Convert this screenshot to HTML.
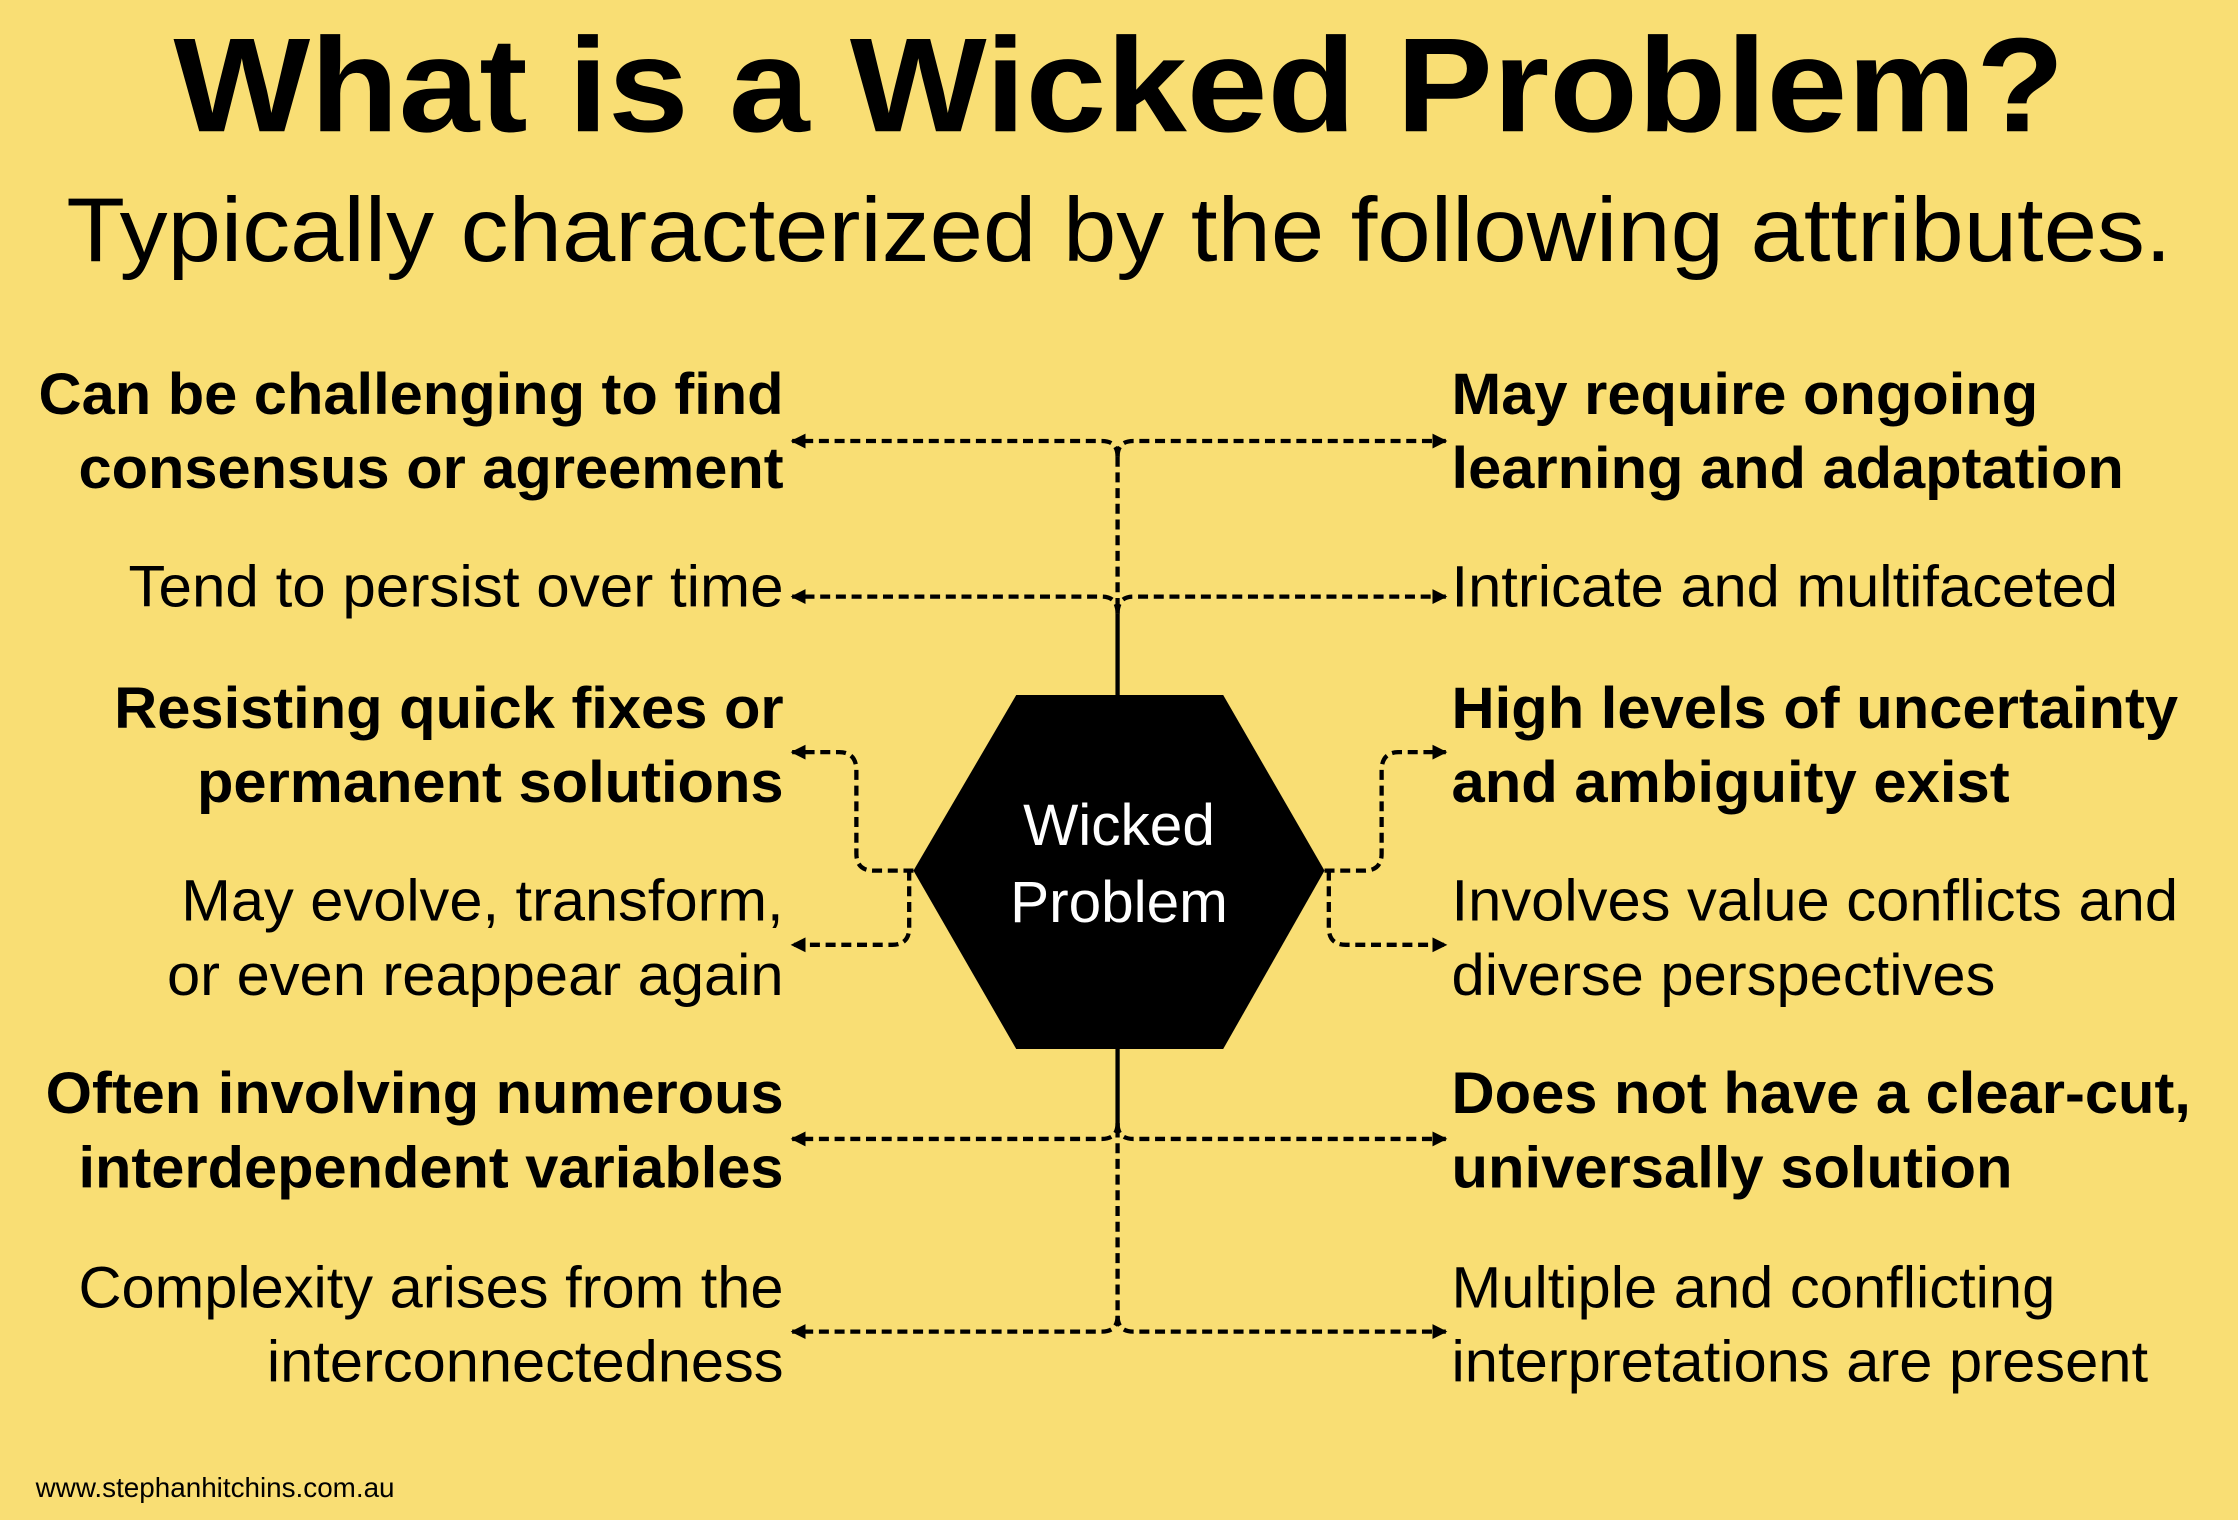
<!DOCTYPE html>
<html><head><meta charset="utf-8"><style>
html,body{margin:0;padding:0;background:#f9de74;}
svg{display:block}
text{font-family:"Liberation Sans",Arial,sans-serif;fill:#000}
.b{font-weight:bold;font-size:41px}
.n{font-size:41px}
.l{text-anchor:end}
</style></head><body>
<svg width="2238" height="1520" viewBox="0 0 1568 1065" preserveAspectRatio="none" xmlns="http://www.w3.org/2000/svg">
<rect width="1568" height="1065" fill="#f9de74"/>
<defs><marker id="a" viewBox="0 0 10 10" refX="9" refY="5" markerWidth="3.5" markerHeight="3.5" orient="auto-start-reverse"><path d="M0,0 L10,5 L0,10z" fill="#000"/></marker></defs>
<text x="784" y="92" text-anchor="middle" font-size="94" font-weight="bold" textLength="1325" lengthAdjust="spacingAndGlyphs">What is a Wicked Problem?</text>
<text x="784" y="183" text-anchor="middle" font-size="64" textLength="1475" lengthAdjust="spacingAndGlyphs">Typically characterized by the following attributes.</text>

<g class="l">
<text x="549" y="290" class="b" textLength="522" lengthAdjust="spacingAndGlyphs">Can be challenging to find</text>
<text x="549" y="342" class="b" textLength="494" lengthAdjust="spacingAndGlyphs">consensus or agreement</text>
<text x="549" y="425" class="n" textLength="459" lengthAdjust="spacingAndGlyphs">Tend to persist over time</text>
<text x="549" y="510" class="b" textLength="469" lengthAdjust="spacingAndGlyphs">Resisting quick fixes or</text>
<text x="549" y="562" class="b" textLength="411" lengthAdjust="spacingAndGlyphs">permanent solutions</text>
<text x="549" y="645" class="n" textLength="422" lengthAdjust="spacingAndGlyphs">May evolve, transform,</text>
<text x="549" y="697" class="n" textLength="432" lengthAdjust="spacingAndGlyphs">or even reappear again</text>
<text x="549" y="780" class="b" textLength="517" lengthAdjust="spacingAndGlyphs">Often involving numerous</text>
<text x="549" y="832" class="b" textLength="494" lengthAdjust="spacingAndGlyphs">interdependent variables</text>
<text x="549" y="916" class="n" textLength="494" lengthAdjust="spacingAndGlyphs">Complexity arises from the</text>
<text x="549" y="968" class="n" textLength="362" lengthAdjust="spacingAndGlyphs">interconnectedness</text>
</g>
<g>
<text x="1017" y="290" class="b" textLength="411" lengthAdjust="spacingAndGlyphs">May require ongoing</text>
<text x="1017" y="342" class="b" textLength="471" lengthAdjust="spacingAndGlyphs">learning and adaptation</text>
<text x="1017" y="425" class="n" textLength="467" lengthAdjust="spacingAndGlyphs">Intricate and multifaceted</text>
<text x="1017" y="510" class="b" textLength="509" lengthAdjust="spacingAndGlyphs">High levels of uncertainty</text>
<text x="1017" y="562" class="b" textLength="391" lengthAdjust="spacingAndGlyphs">and ambiguity exist</text>
<text x="1017" y="645" class="n" textLength="509" lengthAdjust="spacingAndGlyphs">Involves value conflicts and</text>
<text x="1017" y="697" class="n" textLength="381" lengthAdjust="spacingAndGlyphs">diverse perspectives</text>
<text x="1017" y="780" class="b" textLength="518" lengthAdjust="spacingAndGlyphs">Does not have a clear-cut,</text>
<text x="1017" y="832" class="b" textLength="393" lengthAdjust="spacingAndGlyphs">universally solution</text>
<text x="1017" y="916" class="n" textLength="423" lengthAdjust="spacingAndGlyphs">Multiple and conflicting</text>
<text x="1017" y="968" class="n" textLength="488" lengthAdjust="spacingAndGlyphs">interpretations are present</text>
</g>

<polygon points="640,610 712,487 857,487 928,610 857,735 712,735" fill="#000"/>
<text x="784" y="592" text-anchor="middle" font-size="41" style="fill:#fff">Wicked</text>
<text x="784" y="646" text-anchor="middle" font-size="41" style="fill:#fff">Problem</text>

<g fill="none" stroke="#000" stroke-width="3">
<line x1="783" y1="430" x2="783" y2="487"/>
<line x1="783" y1="735" x2="783" y2="790"/>
</g>
<g fill="none" stroke="#000" stroke-width="3" stroke-dasharray="7,4">
<line x1="783" y1="320" x2="783" y2="430"/>
<line x1="783" y1="790" x2="783" y2="925"/>
<path d="M783,320 Q783,309 772,309 L555,309" marker-end="url(#a)"/>
<path d="M783,320 Q783,309 794,309 L1013,309" marker-end="url(#a)"/>
<path d="M783,430 Q783,418 772,418 L555,418" marker-end="url(#a)"/>
<path d="M783,430 Q783,418 794,418 L1013,418" marker-end="url(#a)"/>
<path d="M783,787 Q783,798 772,798 L555,798" marker-end="url(#a)"/>
<path d="M783,787 Q783,798 794,798 L1013,798" marker-end="url(#a)"/>
<path d="M783,922 Q783,933 772,933 L555,933" marker-end="url(#a)"/>
<path d="M783,922 Q783,933 794,933 L1013,933" marker-end="url(#a)"/>
<path d="M640,610 L612,610 Q600,610 600,598 L600,540 Q600,527 588,527 L555,527" marker-end="url(#a)"/>
<path d="M637,610 L637,650 Q637,662 625,662 L555,662" marker-end="url(#a)"/>
<path d="M928,610 L956,610 Q968,610 968,598 L968,540 Q968,527 980,527 L1013,527" marker-end="url(#a)"/>
<path d="M931,610 L931,650 Q931,662 943,662 L1013,662" marker-end="url(#a)"/>
</g>
<text x="25" y="1049" font-size="19.5">www.stephanhitchins.com.au</text>
</svg>
</body></html>
